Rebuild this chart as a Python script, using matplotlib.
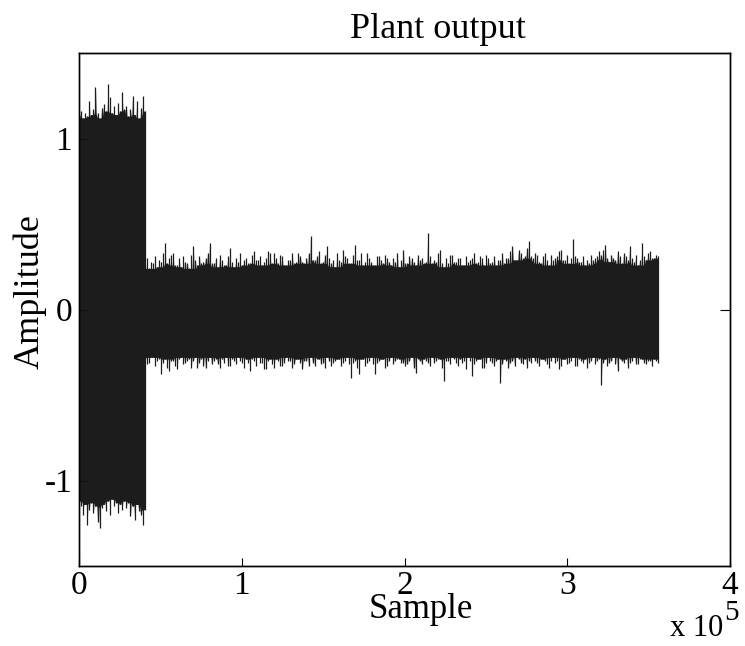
import numpy as np
import matplotlib
matplotlib.use("Agg")
import matplotlib.pyplot as plt

# ---------------- data ----------------
title = "Plant output"
xlabel = "Sample"
ylabel = "Amplitude"
xticks = [0, 1e5, 2e5, 3e5, 4e5]
xticklabels = ["0", "1", "2", "3", "4"]
yticks = [-1, 0, 1]
yticklabels = ["-1", "0", "1"]

# segment 1: strong excitation, samples 0 .. 40500 (upper / lower extremes)
seg1_range = [0, 40500]
seg1_hi = [1.14, 1.16, 1.12, 1.15, 1.13, 1.22, 1.14, 1.17, 1.30, 1.15, 1.12,
           1.18, 1.20, 1.16, 1.32, 1.24, 1.15, 1.19, 1.14, 1.21, 1.16, 1.27,
           1.17, 1.19, 1.13, 1.17, 1.25, 1.14, 1.22, 1.12, 1.18, 1.25, 1.16]
seg1_lo = [-1.12, -1.15, -1.20, -1.14, -1.26, -1.17, -1.13, -1.19, -1.15, -1.24,
           -1.28, -1.16, -1.14, -1.18, -1.12, -1.20, -1.11, -1.15, -1.13, -1.19,
           -1.14, -1.17, -1.12, -1.16, -1.13, -1.21, -1.15, -1.23, -1.14, -1.18,
           -1.20, -1.26, -1.17]

# segment 2: small residual output, samples 40500 .. 355700 (upper / lower extremes)
seg2_range = [40500, 355700]
seg2_hi = [
    0.26, 0.30, 0.24, 0.28, 0.27, 0.31, 0.25, 0.29, 0.28, 0.33, 0.39, 0.27,
    0.30, 0.32, 0.33, 0.26, 0.26, 0.30, 0.25, 0.31, 0.28, 0.27, 0.24, 0.32,
    0.37, 0.29, 0.26, 0.31, 0.27, 0.28, 0.30, 0.33, 0.39, 0.27, 0.27, 0.30,
    0.25, 0.32, 0.29, 0.26, 0.26, 0.31, 0.36, 0.28, 0.25, 0.30, 0.28, 0.33,
    0.26, 0.29, 0.30, 0.27, 0.27, 0.32, 0.34, 0.29, 0.29, 0.31, 0.26, 0.28,
    0.30, 0.34, 0.33, 0.27, 0.33, 0.30, 0.27, 0.32, 0.31, 0.26, 0.26, 0.29,
    0.29, 0.33, 0.27, 0.28, 0.33, 0.31, 0.28, 0.27, 0.30, 0.33, 0.43, 0.29,
    0.29, 0.31, 0.34, 0.27, 0.28, 0.32, 0.37, 0.30, 0.27, 0.29, 0.25, 0.33,
    0.29, 0.28, 0.35, 0.31, 0.30, 0.27, 0.27, 0.32, 0.38, 0.29, 0.29, 0.33,
    0.26, 0.28, 0.33, 0.30, 0.28, 0.26, 0.26, 0.31, 0.31, 0.29, 0.27, 0.32,
    0.30, 0.28, 0.26, 0.30, 0.28, 0.33, 0.25, 0.29, 0.35, 0.27, 0.27, 0.31,
    0.30, 0.28, 0.26, 0.32, 0.29, 0.30, 0.27, 0.28, 0.45, 0.31, 0.27, 0.29,
    0.28, 0.33, 0.35, 0.27, 0.25, 0.30, 0.27, 0.32, 0.32, 0.28, 0.28, 0.30,
    0.30, 0.26, 0.26, 0.31, 0.28, 0.29, 0.30, 0.33, 0.27, 0.28, 0.31, 0.30,
    0.26, 0.32, 0.30, 0.27, 0.28, 0.31, 0.26, 0.29, 0.29, 0.33, 0.27, 0.30,
    0.30, 0.34, 0.37, 0.29, 0.29, 0.35, 0.33, 0.30, 0.31, 0.36, 0.40, 0.31,
    0.30, 0.33, 0.32, 0.28, 0.27, 0.31, 0.33, 0.29, 0.26, 0.32, 0.29, 0.30,
    0.31, 0.34, 0.35, 0.29, 0.29, 0.32, 0.27, 0.30, 0.41, 0.31, 0.30, 0.28,
    0.28, 0.31, 0.26, 0.29, 0.27, 0.32, 0.29, 0.30, 0.31, 0.34, 0.32, 0.35,
    0.38, 0.30, 0.28, 0.32, 0.30, 0.29, 0.34, 0.31, 0.27, 0.33, 0.31, 0.29,
    0.37, 0.30, 0.28, 0.32, 0.26, 0.29, 0.39, 0.31, 0.29, 0.33, 0.34, 0.30,
    0.30, 0.32, 0.31]
seg2_lo = [
    -0.29, -0.32, -0.31, -0.28, -0.28, -0.33, -0.30, -0.29, -0.38, -0.31,
    -0.29, -0.34, -0.36, -0.30, -0.30, -0.33, -0.35, -0.29, -0.28, -0.32,
    -0.31, -0.30, -0.29, -0.34, -0.30, -0.28, -0.34, -0.31, -0.29, -0.33,
    -0.34, -0.30, -0.28, -0.32, -0.30, -0.29, -0.32, -0.34, -0.29, -0.31,
    -0.28, -0.33, -0.33, -0.29, -0.30, -0.32, -0.28, -0.30, -0.31, -0.34,
    -0.29, -0.31, -0.36, -0.29, -0.30, -0.33, -0.28, -0.31, -0.31, -0.35,
    -0.35, -0.30, -0.29, -0.32, -0.34, -0.29, -0.30, -0.33, -0.33, -0.31,
    -0.28, -0.30, -0.30, -0.34, -0.32, -0.29, -0.29, -0.31, -0.35, -0.30,
    -0.30, -0.33, -0.28, -0.31, -0.33, -0.29, -0.29, -0.32, -0.31, -0.34,
    -0.28, -0.30, -0.33, -0.31, -0.30, -0.29, -0.29, -0.33, -0.31, -0.30,
    -0.28, -0.32, -0.40, -0.31, -0.30, -0.34, -0.38, -0.29, -0.29, -0.33,
    -0.31, -0.30, -0.28, -0.32, -0.38, -0.31, -0.30, -0.29, -0.29, -0.34,
    -0.33, -0.30, -0.28, -0.32, -0.30, -0.29, -0.29, -0.31, -0.31, -0.33,
    -0.32, -0.30, -0.28, -0.34, -0.37, -0.29, -0.30, -0.32, -0.29, -0.30,
    -0.31, -0.33, -0.28, -0.31, -0.30, -0.29, -0.29, -0.34, -0.42, -0.30,
    -0.30, -0.32, -0.28, -0.29, -0.31, -0.33, -0.29, -0.31, -0.30, -0.35,
    -0.28, -0.30, -0.39, -0.32, -0.30, -0.29, -0.29, -0.34, -0.34, -0.31,
    -0.28, -0.30, -0.31, -0.33, -0.30, -0.29, -0.43, -0.32, -0.29, -0.30,
    -0.34, -0.31, -0.30, -0.33, -0.28, -0.29, -0.31, -0.32, -0.29, -0.34,
    -0.30, -0.31, -0.28, -0.30, -0.31, -0.33, -0.29, -0.29, -0.30, -0.32,
    -0.34, -0.30, -0.28, -0.31, -0.30, -0.35, -0.33, -0.29, -0.29, -0.32,
    -0.31, -0.30, -0.28, -0.33, -0.33, -0.29, -0.30, -0.31, -0.29, -0.34,
    -0.31, -0.30, -0.28, -0.32, -0.30, -0.29, -0.44, -0.31, -0.29, -0.33,
    -0.31, -0.30, -0.28, -0.32, -0.36, -0.29, -0.30, -0.31, -0.29, -0.34,
    -0.31, -0.30, -0.28, -0.32, -0.32, -0.29, -0.29, -0.31, -0.32, -0.30,
    -0.30, -0.33, -0.29, -0.30, -0.31]

# ---------------- figure ----------------
FONT = ["Liberation Serif", "DejaVu Serif"]
plt.rcParams["font.family"] = FONT
plt.rcParams["font.size"] = 24

W, H = 745, 646
fig = plt.figure(figsize=(W / 100, H / 100), dpi=100)
ax = fig.add_axes([79 / W, 1 - 566 / H, (730 - 79) / W, (566 - 53) / H])

col = "#1c1c1c"


def rolling(a, fn, k):
    p = np.pad(a, k, mode="edge")
    return np.array([fn(p[i:i + 2 * k + 1]) for i in range(len(a))])


def draw_segment(rng, hi, lo, k):
    hi = np.asarray(hi)
    lo = np.asarray(lo)
    x = np.linspace(rng[0], rng[1], len(hi))
    step = x[1] - x[0]
    d = 0.3 * step
    core_hi = rolling(hi, np.min, k)
    core_lo = rolling(lo, np.max, k)
    # needle-shaped envelope: each extreme rises from the local core level
    xx = np.column_stack([x - d, x, x + d]).ravel()
    yh = np.column_stack([core_hi, hi, core_hi]).ravel()
    yl = np.column_stack([core_lo, lo, core_lo]).ravel()
    xx[0], xx[-1] = x[0], x[-1]
    ax.fill_between(xx, yl, yh, color=col, lw=0)
    ax.vlines(x, lo, hi, color=col, lw=0.9)


draw_segment(seg1_range, seg1_hi, seg1_lo, 1)
draw_segment(seg2_range, seg2_hi, seg2_lo, 3)

ax.set_xlim(0, 4e5)
ax.set_ylim(-1.5, 1.5)
ax.set_xticks(xticks)
ax.set_xticklabels(xticklabels)
ax.set_yticks(yticks)
ax.set_yticklabels(yticklabels)
ax.tick_params(direction="in", length=6, width=0.8, top=False, right=False,
               labelsize=24, pad=3)
ax.tick_params(axis="y", pad=5)
# right-side tick mark at zero
axr = ax.twinx()
axr.set_ylim(ax.get_ylim())
axr.set_yticks([0])
axr.set_yticklabels([])
axr.tick_params(direction="in", length=7, width=0.8)

for a in (ax, axr):
    for s in a.spines.values():
        s.set_linewidth(1.0)
        s.set_color("black")

fig.text(438 / W, 1 - 30 / H, title, ha="center", va="center", fontsize=26)
fig.text(421 / W, 1 - 610 / H, xlabel, ha="center", va="center", fontsize=25)
fig.text(30 / W, 1 - 292 / H, ylabel, ha="center", va="center", fontsize=26,
         rotation=90)
fig.text(697 / W, 1 - 629 / H, "x 10", ha="center", va="center", fontsize=22)
fig.text(732 / W, 1 - 613 / H, "5", ha="center", va="center", fontsize=21)

fig.savefig("out.png", dpi=100)
